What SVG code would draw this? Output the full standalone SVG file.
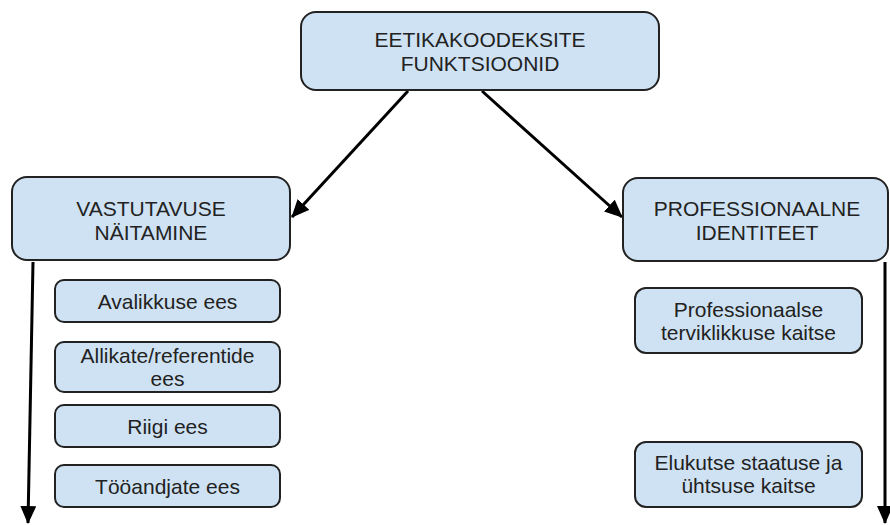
<svg xmlns="http://www.w3.org/2000/svg" width="890" height="525" viewBox="0 0 890 525">
<style>
.box{fill:#cfe2f3;stroke:#222;stroke-width:2}
.t{font-family:"Liberation Sans",Arial,sans-serif;font-size:21px;fill:#222;text-anchor:middle}
.c{stroke:#000;stroke-width:3;fill:none;marker-end:url(#ah)}
</style>
<defs>
<marker id="ah" markerUnits="userSpaceOnUse" markerWidth="18" markerHeight="16" refX="17" refY="8" orient="auto">
<path d="M0,0 L18,8 L0,16 z" fill="#000"/>
</marker>
</defs>
<rect width="890" height="525" fill="#fff"/>
<g id="connectors">
<line class="c" x1="408" y1="91" x2="292" y2="217"/>
<line class="c" x1="482" y1="91" x2="622" y2="217"/>
<line class="c" x1="33" y1="262" x2="28" y2="523"/>
<line class="c" x1="885" y1="262" x2="885" y2="523"/>
</g>
<g id="n-top">
<rect class="box" x="301" y="12" width="358" height="78" rx="15"/>
<text class="t" x="480" y="47">EETIKAKOODEKSITE</text>
<text class="t" x="480" y="71">FUNKTSIOONID</text>
</g>
<g id="n-vastutavus">
<rect class="box" x="12" y="177" width="278" height="83" rx="15"/>
<text class="t" x="151" y="216">VASTUTAVUSE</text>
<text class="t" x="151" y="240">NÄITAMINE</text>
</g>
<g id="n-identiteet">
<rect class="box" x="623" y="178" width="265" height="83" rx="15"/>
<text class="t" x="757" y="216">PROFESSIONAALNE</text>
<text class="t" x="757" y="240">IDENTITEET</text>
</g>
<g id="n-avalikkuse">
<rect class="box" x="55" y="280" width="225" height="42" rx="9"/>
<text class="t" x="167.5" y="308.5">Avalikkuse ees</text>
</g>
<g id="n-allikate">
<rect class="box" x="55" y="342" width="225" height="50" rx="9"/>
<text class="t" x="167.5" y="363">Allikate/referentide</text>
<text class="t" x="167.5" y="386">ees</text>
</g>
<g id="n-riigi">
<rect class="box" x="55" y="405" width="225" height="42" rx="9"/>
<text class="t" x="167.5" y="433.5">Riigi ees</text>
</g>
<g id="n-tooandjate">
<rect class="box" x="55" y="465" width="225" height="42" rx="9"/>
<text class="t" x="167.5" y="493.5">Tööandjate ees</text>
</g>
<g id="n-terviklikkus">
<rect class="box" x="635" y="288" width="227" height="65" rx="11"/>
<text class="t" x="748.5" y="316.5">Professionaalse</text>
<text class="t" x="748.5" y="339.5">terviklikkuse kaitse</text>
</g>
<g id="n-elukutse">
<rect class="box" x="635" y="442" width="227" height="65" rx="11"/>
<text class="t" x="748.5" y="470">Elukutse staatuse ja</text>
<text class="t" x="748.5" y="493">ühtsuse kaitse</text>
</g>
</svg>
